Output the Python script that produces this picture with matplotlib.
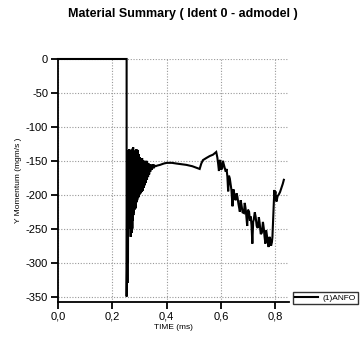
import matplotlib
matplotlib.use("Agg")
import matplotlib.pyplot as plt
from matplotlib.ticker import FuncFormatter

plt.rcParams['font.family'] = ['Liberation Sans', 'DejaVu Sans']

time_ms = [0.0, 0.253, 0.253, 0.254, 0.255, 0.256, 0.257, 0.258, 0.259, 0.260, 0.261,
           0.262, 0.263, 0.264, 0.265, 0.266, 0.267, 0.268, 0.269, 0.270, 0.271,
           0.272, 0.273, 0.274, 0.275, 0.276, 0.277, 0.278, 0.279, 0.280, 0.281,
           0.282, 0.283, 0.284, 0.285, 0.286, 0.287, 0.288, 0.289, 0.290, 0.291,
           0.292, 0.293, 0.294, 0.295, 0.296, 0.297, 0.298, 0.299, 0.300, 0.302,
           0.304, 0.306, 0.308, 0.310, 0.312, 0.314, 0.316, 0.318, 0.320, 0.322,
           0.324, 0.326, 0.328, 0.330, 0.332, 0.334, 0.336, 0.338, 0.340, 0.343,
           0.346, 0.349, 0.352, 0.356, 0.360, 0.366, 0.376, 0.390, 0.401, 0.420,
           0.436, 0.455, 0.473, 0.495, 0.516, 0.522, 0.528, 0.534, 0.546, 0.559,
           0.571, 0.583, 0.587, 0.590, 0.593, 0.596, 0.598, 0.601, 0.605, 0.608,
           0.610, 0.614, 0.618, 0.621, 0.624, 0.627, 0.630, 0.633, 0.636, 0.639,
           0.643, 0.646, 0.648, 0.652, 0.655, 0.658, 0.661, 0.665, 0.670, 0.673,
           0.676, 0.680, 0.685, 0.688, 0.691, 0.694, 0.697, 0.700, 0.704, 0.707,
           0.710, 0.713, 0.716, 0.719, 0.721, 0.725, 0.728, 0.732, 0.736, 0.740,
           0.743, 0.747, 0.751, 0.755, 0.758, 0.761, 0.764, 0.767, 0.770, 0.773,
           0.776, 0.779, 0.782, 0.785, 0.788, 0.790, 0.792, 0.795, 0.797, 0.799,
           0.801, 0.803, 0.805, 0.809, 0.813, 0.818, 0.823, 0.828, 0.832]
y_momentum = [0, 0, -350, -310, -160, -330, -140, -300, -135, -250, -170,
              -240, -133, -228, -140, -236, -150, -262, -135, -245, -140,
              -256, -145, -250, -132, -238, -130, -230, -150, -226, -138,
              -222, -140, -218, -135, -220, -145, -212, -133, -210, -140,
              -208, -134, -205, -142, -204, -140, -203, -145, -200, -145,
              -198, -148, -196, -146, -194, -150, -190, -150, -186, -152,
              -182, -150, -178, -153, -174, -154, -170, -155, -166, -156,
              -163, -155, -161, -157, -158, -157, -156, -154, -153, -153,
              -154, -155, -156, -158, -161, -162, -154, -149, -146, -143,
              -141, -137, -145, -154, -165, -150, -149, -163, -161, -150,
              -154, -160, -166, -162, -173, -195, -172, -176, -185, -193,
              -217, -192, -195, -206, -208, -198, -203, -214, -225, -208,
              -215, -226, -227, -212, -220, -232, -246, -222, -225, -238,
              -232, -245, -272, -240, -237, -226, -232, -246, -249, -233,
              -242, -258, -256, -240, -249, -262, -272, -252, -261, -270,
              -277, -262, -266, -275, -270, -262, -242, -215, -193, -200,
              -195, -205, -210, -202, -200, -196, -190, -184, -178]
series_label = "(1)ANFO"
x_ticks = [0.0, 0.2, 0.4, 0.6, 0.8]
y_ticks = [0, -50, -100, -150, -200, -250, -300, -350]

fig = plt.figure(figsize=(3.62, 3.40), dpi=100)
ax = fig.add_axes([0.160, 0.1118, 0.6376, 0.7147])

line, = ax.plot(time_ms, y_momentum, color='black', lw=1.5, label=series_label,
                clip_on=False, solid_joinstyle='miter')

ax.set_xlim(0, 0.85)
ax.set_ylim(-358, 0)
ax.set_xticks(x_ticks)
ax.set_yticks(y_ticks)
ax.xaxis.set_major_formatter(FuncFormatter(lambda v, p: f"{v:.1f}".replace('.', ',')))
ax.yaxis.set_major_formatter(FuncFormatter(lambda v, p: f"{int(round(v))}"))
ax.grid(True, linestyle=(0, (1, 1.5)), color='#999999', lw=0.8)
for s in ['top', 'right']:
    ax.spines[s].set_visible(False)
for s in ['left', 'bottom']:
    ax.spines[s].set_linewidth(1.3)
ax.tick_params(direction='out', length=5, width=1.3, labelsize=8, pad=2)
ax.set_xlabel("TIME (ms)", fontsize=6, labelpad=2)
ax.set_ylabel("Y Momentum (mgm/s )", fontsize=6, labelpad=3)

fig.suptitle("Material Summary ( Ident 0 - admodel )", fontsize=9, fontweight='bold',
             x=0.505, y=0.975)

fig.legend(handles=[line], labels=[series_label], loc='upper left',
           bbox_to_anchor=(293/362, 1 - 292/340), fontsize=6, frameon=True,
           fancybox=False, edgecolor='black', handlelength=2.7, borderpad=0.25,
           handletextpad=0.6, borderaxespad=0)

fig.savefig("out.png", dpi=100)
